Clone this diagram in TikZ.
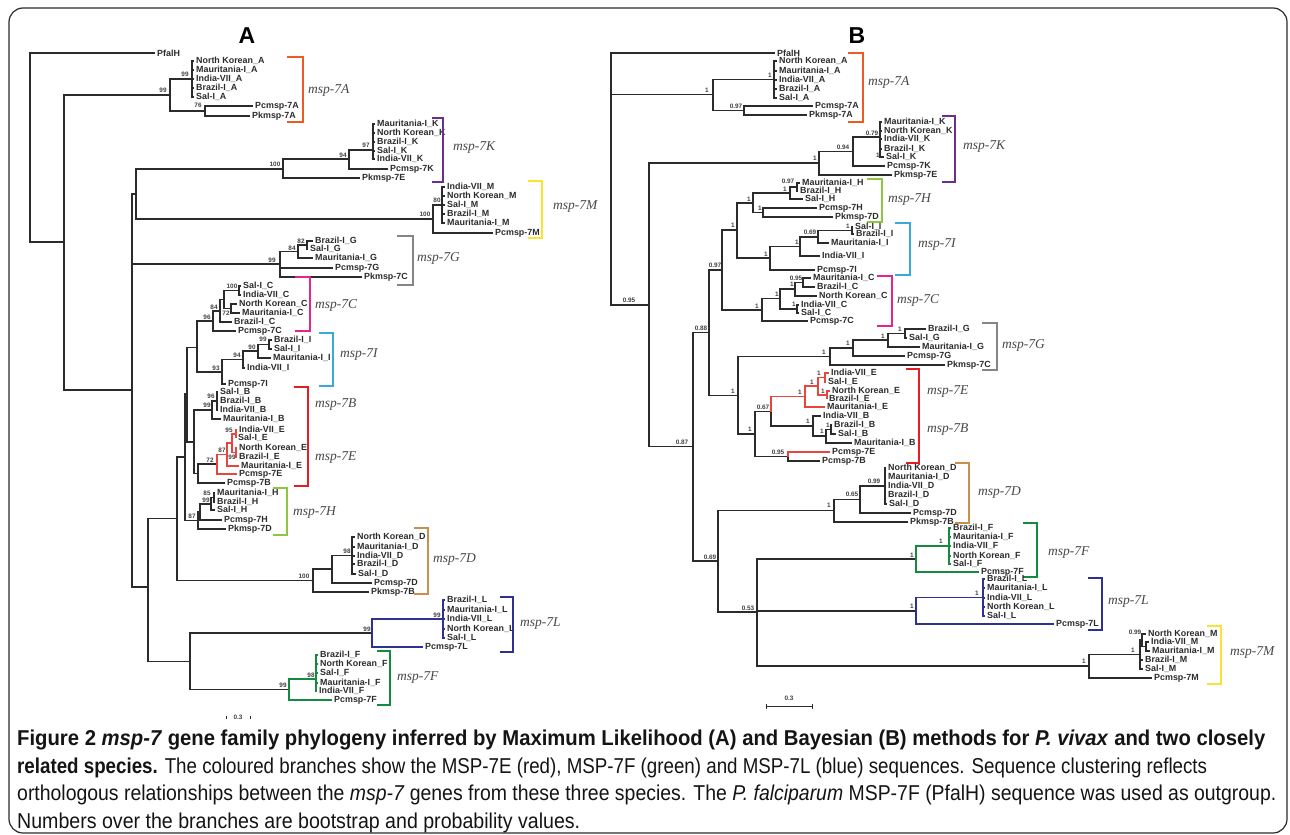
\documentclass[tikz,border=0pt]{standalone}
\usepackage{fontspec}
\usepackage{graphicx}
\setmainfont{Liberation Sans}
\newfontfamily\clfont{Liberation Serif}
\definecolor{cOr}{HTML}{EE5A24}
\definecolor{cPu}{HTML}{6B2D8E}
\definecolor{cYe}{HTML}{F7E433}
\definecolor{cGy}{HTML}{858585}
\definecolor{cMa}{HTML}{E6258C}
\definecolor{cBl}{HTML}{39A9DC}
\definecolor{cRe}{HTML}{E31E24}
\definecolor{cReB}{HTML}{E8463C}
\definecolor{cLi}{HTML}{8DC63F}
\definecolor{cTa}{HTML}{C8904F}
\definecolor{cNa}{HTML}{2E3192}
\definecolor{cGr}{HTML}{138A3E}
\definecolor{ink}{HTML}{2B2B2B}
\tikzset{
 tb/.style={draw=ink, line width=1.15pt},
 tiplab/.style={anchor=west, inner sep=0pt, font=\fontsize{8.9}{9}\selectfont\bfseries, text=ink},
 svlab/.style={inner sep=0pt, font=\fontsize{6.4}{7}\selectfont\bfseries, text=black!75},
 clab/.style={anchor=west, inner sep=0pt, font=\fontsize{13.5}{14}\selectfont\clfont\itshape, text=black!72},
 brk/.style={line width=2.3pt, line join=miter},
 ttl/.style={inner sep=0pt, font=\fontsize{23}{23}\selectfont\bfseries},
 capl/.style={anchor=base west, inner sep=0pt, text=black!92},
}
\newcommand\Zch[5][]{\draw[tb,#1] (#2,#3) |- (#4,#5);}
\newcommand\Zt[6][]{\draw[tb,#1] (#2,#3) |- (#4,#5); \node[tiplab] at ({#4+2},#5) {#6};}
\newcommand\Zsv[3]{\node[svlab] at (#1,#2) {#3};}
\newcommand\Zcl[3]{\node[clab] at (#1,#2) {msp-#3};}
\newcommand\Zbk[5]{\draw[brk,#1] (#2,#4) -- (#3,#4) -- (#3,#5) -- (#2,#5);}
\newcommand\capfs{\fontsize{21.5}{24}\selectfont}
\begin{document}
\begin{tikzpicture}[x=1pt,y=-1pt]
\useasboundingbox (0,0) rectangle (1290,835);
\draw[line width=1.2pt, draw=ink, rounded corners=14pt] (9,8) rectangle (1287,833);
\node[ttl] (tA) at (247,36) {A};
\node[ttl] (tB) at (857,36) {B};
% ================= PANEL A =================
\Zt{30}{242}{155}{53}{PfalH}
\Zch{30}{53}{64}{242}
\Zch{64}{242}{170}{95} \Zsv{163}{90}{99}
\Zch{64}{242}{132}{390}
% 7A
\Zch{170}{95}{192}{79} \Zsv{185}{74}{99}
\Zt{192}{79}{194}{61}{North Korean\_A}
\Zt{192}{79}{194}{70}{Mauritania-I\_A}
\Zt{192}{79}{194}{79}{India-VII\_A}
\Zt{192}{79}{194}{88}{Brazil-I\_A}
\Zt{192}{79}{194}{97}{Sal-I\_A}
\Zch{170}{95}{205}{111} \Zsv{198}{105}{76}
\Zt{205}{111}{253}{106}{Pcmsp-7A}
\Zt{205}{111}{250}{116}{Pkmsp-7A}
\Zbk{cOr}{287}{303}{57}{122} \Zcl{308}{90}{7A}
% backbone
\Zch{132}{390}{136}{194}
\Zch{132}{390}{280}{264} \Zsv{272}{260}{99}
\Zch{132}{390}{148}{587}
\Zch{136}{194}{283}{169} \Zsv{275}{164}{100}
\Zch{136}{194}{433}{219} \Zsv{425}{214}{100}
% 7K
\Zch{283}{169}{349}{159} \Zsv{343}{155}{94}
\Zt{283}{169}{360}{178}{Pkmsp-7E}
\Zch{349}{159}{373}{150} \Zsv{366}{145}{97}
\Zt{349}{159}{388}{169}{Pcmsp-7K}
\Zt{373}{150}{375}{124}{Mauritania-I\_K}
\Zt{373}{150}{375}{133}{North Korean\_K}
\Zt{373}{150}{375}{142}{Brazil-I\_K}
\Zt{373}{150}{375}{151}{Sal-I\_K}
\Zt{373}{150}{375}{159}{India-VII\_K}
\Zbk{cPu}{432}{443}{118}{182} \Zcl{453}{148}{7K}
% 7M
\Zch{433}{219}{442}{205} \Zsv{437}{200}{80}
\Zt{433}{219}{493}{233}{Pcmsp-7M}
\Zt{442}{205}{445}{187}{India-VII\_M}
\Zt{442}{205}{445}{196}{North Korean\_M}
\Zt{442}{205}{445}{205}{Sal-I\_M}
\Zt{442}{205}{445}{214}{Brazil-I\_M}
\Zt{442}{205}{445}{223}{Mauritania-I\_M}
\Zbk{cYe}{528}{542}{181}{238} \Zcl{553}{207}{7M}
% 7G
\Zch{280}{264}{298}{251.5} \Zsv{292}{248}{84}
\Zt{280}{264}{333}{268}{Pcmsp-7G}
\Zt{280}{264}{362}{277}{Pkmsp-7C}
\Zch{298}{251.5}{307}{245} \Zsv{301}{241}{82}
\Zt{298}{251.5}{313}{258}{Mauritania-I\_G}
\Zt{307}{245}{313}{241}{Brazil-I\_G}
\Zt{307}{245}{308}{249}{Sal-I\_G}
\Zbk{cGy}{397}{413}{236}{285} \Zcl{417}{258}{7G}
% lower part
\Zch{148}{587}{177}{518.5}
\Zch{148}{587}{190}{661.5}
\Zch{177}{518.5}{185}{457}
\Zch{177}{518.5}{313}{580.5} \Zsv{304}{576}{100}
\Zch{185}{457}{187}{393.5}
\Zch{185}{457}{198}{520.5} \Zsv{192}{516}{87}
\Zch{187}{393.5}{197}{347.5}
\Zch{187}{393.5}{194}{442}
% 7C
\Zch{197}{347.5}{213}{321} \Zsv{207}{317}{96}
\Zch{197}{347.5}{222}{372} \Zsv{216}{368}{93}
\Zch{213}{321}{220}{311} \Zsv{214}{307}{84}
\Zt{213}{321}{236}{331}{Pcmsp-7C}
\Zch{220}{311}{224}{299.5}
\Zt{220}{311}{232}{322}{Brazil-I\_C}
\Zch{224}{299.5}{239}{290.5} \Zsv{232}{286}{100}
\Zch{224}{299.5}{231}{308.5} \Zsv{226}{313}{72}
\Zt{239}{290.5}{241}{286}{Sal-I\_C}
\Zt{239}{290.5}{241}{295}{India-VII\_C}
\Zt{231}{308.5}{237}{304}{North Korean\_C}
\Zt{231}{308.5}{240}{313}{Mauritania-I\_C}
\Zbk{cMa}{295}{310}{277}{331} \Zcl{315}{305}{7C}
% 7I
\Zch{222}{372}{243}{359.5} \Zsv{237}{355}{94}
\Zt{222}{372}{226}{384}{Pcmsp-7I}
\Zch{243}{359.5}{258}{351} \Zsv{252}{347}{90}
\Zt{243}{359.5}{245}{368}{India-VII\_I}
\Zch{258}{351}{269}{344.5} \Zsv{263}{339}{99}
\Zt{258}{351}{271}{358}{Mauritania-I\_I}
\Zt{269}{344.5}{272}{340}{Brazil-I\_I}
\Zt{269}{344.5}{272}{349}{Sal-I\_I}
\Zbk{cBl}{319}{333}{333}{386} \Zcl{340}{355}{7I}
% 7B / 7E
\Zch{194}{442}{212}{410} \Zsv{207}{405}{99}
\Zch{194}{442}{198}{473.5}
\Zch{212}{410}{217}{401} \Zsv{211}{396}{96}
\Zt{212}{410}{221}{419}{Mauritania-I\_B}
\Zt{217}{401}{218}{392}{Sal-I\_B}
\Zt{217}{401}{218}{401}{Brazil-I\_B}
\Zt{217}{401}{218}{410}{India-VII\_B}
\Zch{198}{473.5}{217}{464} \Zsv{210}{460}{72}
\Zt{198}{473.5}{225}{483}{Pcmsp-7B}
\Zch[draw=cReB]{217}{464}{227}{454.5} \Zsv{222}{450}{87}
\Zt[draw=cReB]{217}{464}{237}{474}{Pcmsp-7E}
\Zch[draw=cReB]{227}{454.5}{232}{443}
\Zt[draw=cReB]{227}{454.5}{239}{466}{Mauritania-I\_E}
\Zch[draw=cReB]{232}{443}{236}{434} \Zsv{229}{430}{95}
\Zch[draw=cReB]{232}{443}{236}{452.5} \Zsv{232}{457}{99}
\Zt[draw=cReB]{236}{434}{237}{430}{India-VII\_E}
\Zt[draw=cReB]{236}{434}{236}{438}{Sal-I\_E}
\Zt[draw=cReB]{236}{452.5}{237}{448}{North Korean\_E}
\Zt[draw=cReB]{236}{452.5}{237}{457}{Brazil-I\_E}
\Zbk{cRe}{294}{308}{387}{486} \Zcl{315}{405}{7B} \Zcl{315}{458}{7E}
% 7H
\Zch{198}{520.5}{200}{512}
\Zt{198}{520.5}{226}{529}{Pkmsp-7D}
\Zch{200}{512}{211}{504} \Zsv{206}{500}{99}
\Zt{200}{512}{222}{520}{Pcmsp-7H}
\Zch{211}{504}{214}{497.5} \Zsv{207}{493}{85}
\Zt{211}{504}{215}{510}{Sal-I\_H}
\Zt{214}{497.5}{215}{493}{Mauritania-I\_H}
\Zt{214}{497.5}{215}{502}{Brazil-I\_H}
\Zbk{cLi}{273}{287}{488}{535} \Zcl{293}{513}{7H}
% 7D
\Zch{313}{580.5}{332}{569}
\Zt{313}{580.5}{369}{592}{Pkmsp-7B}
\Zch{332}{569}{352}{555.5} \Zsv{347}{551}{98}
\Zt{332}{569}{372}{583}{Pcmsp-7D}
\Zt{352}{555.5}{355}{537}{North Korean\_D}
\Zt{352}{555.5}{355}{547}{Mauritania-I\_D}
\Zt{352}{555.5}{355}{556}{India-VII\_D}
\Zt{352}{555.5}{355}{564}{Brazil-I\_D}
\Zt{352}{555.5}{356}{574}{Sal-I\_D}
\Zbk{cTa}{414}{428}{528}{594} \Zcl{433}{560}{7D}
% 7L
\Zch{190}{661.5}{372}{633} \Zsv{367}{629}{99}
\Zch{190}{661.5}{289}{689.5} \Zsv{283}{685}{99}
\Zch[draw=cNa]{372}{633}{443}{619} \Zsv{437}{615}{99}
\Zt[draw=cNa]{372}{633}{423}{647}{Pcmsp-7L}
\Zt[draw=cNa]{443}{619}{445}{600}{Brazil-I\_L}
\Zt[draw=cNa]{443}{619}{445}{610}{Mauritania-I\_L}
\Zt[draw=cNa]{443}{619}{445}{619}{India-VII\_L}
\Zt[draw=cNa]{443}{619}{445}{629}{North Korean\_L}
\Zt[draw=cNa]{443}{619}{445}{638}{Sal-I\_L}
\Zbk{cNa}{500}{513}{597}{652} \Zcl{520}{624}{7L}
% 7F
\Zch[draw=cGr]{289}{689.5}{316}{679} \Zsv{311}{675}{98}
\Zt[draw=cGr]{289}{689.5}{332}{700}{Pcmsp-7F}
\Zt[draw=cGr]{316}{679}{318}{655}{Brazil-I\_F}
\Zt[draw=cGr]{316}{679}{318}{664}{North Korean\_F}
\Zt[draw=cGr]{316}{679}{318}{673}{Sal-I\_F}
\Zt[draw=cGr]{316}{679}{318}{683}{Mauritania-I\_F}
\Zt[draw=cGr]{316}{679}{317}{691}{India-VII\_F}
\Zbk{cGr}{377}{390}{651}{705} \Zcl{397}{678}{7F}
% scale A
\node[svlab] (sA) at (238,717) {0.3};
\draw[ink, line width=0.8pt] (226,716) -- (226,719) (250,716) -- (250,719);
% ================= PANEL B =================
\Zt{611}{305}{775}{53}{PfalH}
\Zch{611}{305}{713}{94.5} \Zsv{707}{90}{1}
\Zch{611}{53}{649}{305} \Zsv{629}{300}{0.95}
% 7A
\Zch{713}{94.5}{774}{79.5} \Zsv{770}{75}{1}
\Zch{713}{94.5}{744}{110.5} \Zsv{736}{106}{0.97}
\Zt{774}{79.5}{777}{61}{North Korean\_A}
\Zt{774}{79.5}{777}{71}{Mauritania-I\_A}
\Zt{774}{79.5}{777}{80}{India-VII\_A}
\Zt{774}{79.5}{777}{89}{Brazil-I\_A}
\Zt{774}{79.5}{777}{98}{Sal-I\_A}
\Zt{744}{110.5}{813}{106}{Pcmsp-7A}
\Zt{744}{110.5}{807}{115}{Pkmsp-7A}
\Zbk{cOr}{848}{863}{53}{122} \Zcl{868}{82}{7A}
% X
\Zch{649}{305}{819}{163} \Zsv{815}{158}{1}
\Zch{649}{305}{693}{446.5} \Zsv{682}{442}{0.87}
% 7K
\Zch{819}{163}{853}{151.5} \Zsv{843}{147}{0.94}
\Zt{819}{163}{892}{175}{Pkmsp-7E}
\Zch{853}{151.5}{880}{137} \Zsv{872}{133}{0.79}
\Zt{853}{151.5}{885}{166}{Pcmsp-7K}
\Zt{880}{137}{882}{122}{Mauritania-I\_K}
\Zt{880}{137}{882}{131}{North Korean\_K}
\Zt{880}{137}{882}{139}{India-VII\_K}
\Zt{880}{137}{882}{149}{Brazil-I\_K}
\Zt{880}{137}{884}{157}{Sal-I\_K}
\Zsv{878}{155}{1}
\Zbk{cPu}{942}{955}{116}{182} \Zcl{963}{147}{7K}
% Y, Z
\Zch{693}{446.5}{709}{332.5} \Zsv{701}{328}{0.88}
\Zch{693}{446.5}{718}{561} \Zsv{710}{557}{0.69}
\Zch{709}{332.5}{722}{270} \Zsv{715}{265}{0.97}
\Zch{709}{332.5}{738}{395.5} \Zsv{733}{391}{1}
\Zch{722}{270}{737}{230} \Zsv{733}{225}{1}
\Zch{722}{270}{762}{310} \Zsv{757}{306}{1}
% 7H
\Zch{737}{230}{753}{203} \Zsv{749}{199}{1}
\Zch{737}{230}{770}{258} \Zsv{766}{254}{1}
\Zch{753}{203}{790}{193} \Zsv{785}{189}{1}
\Zch{753}{203}{763}{212.5} \Zsv{760}{208}{1}
\Zch{790}{193}{797}{187} \Zsv{788}{181}{0.97}
\Zt{790}{193}{803}{199}{Sal-I\_H}
\Zt{797}{187}{800}{183}{Mauritania-I\_H}
\Zt{797}{187}{798}{191}{Brazil-I\_H}
\Zt{763}{212.5}{817}{208}{Pcmsp-7H}
\Zt{763}{212.5}{833}{217}{Pkmsp-7D}
\Zbk{cLi}{867}{882}{179}{222} \Zcl{888}{200}{7H}
% 7I
\Zch{770}{258}{800}{246.5} \Zsv{797}{242}{1}
\Zt{770}{258}{815}{270}{Pcmsp-7I}
\Zch{800}{246.5}{818}{237} \Zsv{810}{232}{0.69}
\Zt{800}{246.5}{820}{256}{India-VII\_I}
\Zch{818}{237}{852}{230.5} \Zsv{848}{226}{1}
\Zt{818}{237}{829}{243}{Mauritania-I\_I}
\Zt{852}{230.5}{853}{227}{Sal-I\_I}
\Zt{852}{230.5}{854}{234}{Brazil-I\_I}
\Zbk{cBl}{895}{910}{223}{275} \Zcl{918}{245}{7I}
% 7C
\Zch{762}{310}{780}{298.5} \Zsv{777}{294}{1}
\Zt{762}{310}{808}{321}{Pcmsp-7C}
\Zch{780}{298.5}{795}{289} \Zsv{792}{284}{1}
\Zch{780}{298.5}{797}{309} \Zsv{794}{304}{1}
\Zch{795}{289}{803}{282.5} \Zsv{796}{278}{0.95}
\Zt{795}{289}{817}{296}{North Korean\_C}
\Zt{803}{282.5}{811}{278}{Mauritania-I\_C}
\Zt{803}{282.5}{815}{287}{Brazil-I\_C}
\Zt{797}{309}{799}{305}{India-VII\_C}
\Zt{797}{309}{799}{313}{Sal-I\_C}
\Zbk{cMa}{877}{892}{276}{326} \Zcl{897}{300}{7C}
% 7G
\Zch{738}{395.5}{830}{356.5} \Zsv{824}{352}{1}
\Zch{738}{395.5}{755}{434} \Zsv{750}{429}{1}
\Zch{830}{356.5}{853}{348} \Zsv{848}{343}{1}
\Zt{830}{356.5}{945}{365}{Pkmsp-7C}
\Zch{853}{348}{888}{340} \Zsv{883}{336}{1}
\Zt{853}{348}{905}{356}{Pcmsp-7G}
\Zch{888}{340}{905}{333.5} \Zsv{900}{329}{1}
\Zt{888}{340}{920}{347}{Mauritania-I\_G}
\Zt{905}{333.5}{926}{329}{Brazil-I\_G}
\Zt{905}{333.5}{907}{338}{Sal-I\_G}
\Zbk{cGy}{982}{997}{323}{370} \Zcl{1002}{345}{7G}
% 7E / 7B
\Zch{755}{434}{771}{411.5} \Zsv{763}{407}{0.67}
\Zch{755}{434}{788}{456.5} \Zsv{778}{452}{0.95}
\Zch[draw=cReB]{771}{411.5}{805}{396.5} \Zsv{800}{392}{1}
\Zch{771}{411.5}{813}{426} \Zsv{808}{421}{1}
\Zch[draw=cReB]{805}{396.5}{818}{386} \Zsv{812}{382}{1}
\Zt[draw=cReB]{805}{396.5}{825}{407}{Mauritania-I\_E}
\Zch[draw=cReB]{818}{386}{825}{377.5} \Zsv{819}{373}{1}
\Zch[draw=cReB]{818}{386}{827}{395} \Zsv{823}{391}{1}
\Zt[draw=cReB]{825}{377.5}{829}{373}{India-VII\_E}
\Zt[draw=cReB]{825}{377.5}{826}{382}{Sal-I\_E}
\Zt[draw=cReB]{827}{395}{830}{391}{North Korean\_E}
\Zt[draw=cReB]{827}{395}{827}{399}{Brazil-I\_E}
\Zt{813}{426}{821}{416}{India-VII\_B}
\Zch{813}{426}{826}{436} \Zsv{822}{431}{1}
\Zch{826}{436}{831}{429.5} \Zsv{828}{425}{1}
\Zt{826}{436}{852}{443}{Mauritania-I\_B}
\Zt{831}{429.5}{832}{425}{Brazil-I\_B}
\Zt{831}{429.5}{836}{434}{Sal-I\_B}
\Zt[draw=cReB]{788}{456.5}{830}{452}{Pcmsp-7E}
\Zt{788}{456.5}{820}{461}{Pcmsp-7B}
\Zbk{cRe}{906}{919}{369}{463} \Zcl{927}{392}{7E} \Zcl{927}{430}{7B}
% 7D
\Zch{718}{561}{834}{510.5} \Zsv{829}{505}{1}
\Zch{718}{561}{757}{612} \Zsv{748}{608}{0.53}
\Zch{834}{510.5}{860}{499.5} \Zsv{852}{494}{0.65}
\Zt{834}{510.5}{908}{522}{Pkmsp-7B}
\Zch{860}{499.5}{885}{486} \Zsv{874}{481}{0.99}
\Zt{860}{499.5}{911}{513}{Pcmsp-7D}
\Zt{885}{486}{886}{468}{North Korean\_D}
\Zt{885}{486}{886}{477}{Mauritania-I\_D}
\Zt{885}{486}{886}{486}{India-VII\_D}
\Zt{885}{486}{886}{495}{Brazil-I\_D}
\Zt{885}{486}{887}{504}{Sal-I\_D}
\Zbk{cTa}{955}{969}{463}{523} \Zcl{978}{493}{7D}
% 7F
\Zch{757}{612}{916}{559} \Zsv{912}{555}{1}
\Zch{757}{612}{916}{611} \Zsv{912}{606}{1}
\Zch{757}{612}{1089}{666} \Zsv{1084}{661}{1}
\Zch[draw=cGr]{916}{559}{949}{546} \Zsv{941}{541}{1}
\Zt[draw=cGr]{916}{559}{979}{572}{Pcmsp-7F}
\Zt[draw=cGr]{949}{546}{951}{528}{Brazil-I\_F}
\Zt[draw=cGr]{949}{546}{951}{537}{Mauritania-I\_F}
\Zt[draw=cGr]{949}{546}{951}{546}{India-VII\_F}
\Zt[draw=cGr]{949}{546}{951}{556}{North Korean\_F}
\Zt[draw=cGr]{949}{546}{951}{564}{Sal-I\_F}
\Zbk{cGr}{1023}{1037}{523}{577} \Zcl{1048}{553}{7F}
% 7L
\Zch[draw=cNa]{916}{611}{983}{597.5} \Zsv{977}{593}{1}
\Zt[draw=cNa]{916}{611}{1054}{624}{Pcmsp-7L}
\Zt[draw=cNa]{983}{597.5}{985}{579}{Brazil-I\_L}
\Zt[draw=cNa]{983}{597.5}{985}{588}{Mauritania-I\_L}
\Zt[draw=cNa]{983}{597.5}{985}{598}{India-VII\_L}
\Zt[draw=cNa]{983}{597.5}{985}{607}{North Korean\_L}
\Zt[draw=cNa]{983}{597.5}{985}{616}{Sal-I\_L}
\Zbk{cNa}{1088}{1102}{578}{630} \Zcl{1108}{602}{7L}
% 7M
\Zch{1089}{666}{1140}{654.5} \Zsv{1133}{650}{1}
\Zt{1089}{666}{1152}{678}{Pcmsp-7M}
\Zch{1140}{654.5}{1142}{640} \Zsv{1135}{632}{0.99}
\Zt{1140}{654.5}{1143}{660}{Brazil-I\_M}
\Zt{1140}{654.5}{1143}{669}{Sal-I\_M}
\Zt{1142}{640}{1146}{634}{North Korean\_M}
\Zch{1142}{640}{1146}{646.5}
\Zt{1146}{646.5}{1149}{642}{India-VII\_M}
\Zt{1146}{646.5}{1150}{651}{Mauritania-I\_M}
\Zbk{cYe}{1207}{1221}{626}{684} \Zcl{1230}{653}{7M}
% scale B
\node[svlab] (sB) at (789,698) {0.3};
\draw[ink, line width=0.9pt] (766,706) -- (812,706) (766,703.5) -- (766,708.5) (812,703.5) -- (812,708.5);
% ================= CAPTION =================
\node[capl] (c1) at (17,745) {\resizebox{1248pt}{\height}{\capfs\bfseries Figure 2 \textit{msp-7} gene family phylogeny inferred by Maximum Likelihood (A) and Bayesian (B) methods for \textit{P. vivax} and two closely}};
\node[capl] (c2) at (17,773) {\resizebox{1190pt}{\height}{\capfs{\bfseries related species.} The coloured branches show the MSP-7E (red), MSP-7F (green) and MSP-7L (blue) sequences. Sequence clustering reflects}};
\node[capl] (c3) at (17,800) {\resizebox{1259pt}{\height}{\capfs orthologous relationships between the \textit{msp-7} genes from these three species. The \textit{P. falciparum} MSP-7F (PfalH) sequence was used as outgroup.}};
\node[capl] (c4) at (17,828) {\resizebox{563pt}{\height}{\capfs Numbers over the branches are bootstrap and probability values.}};
\end{tikzpicture}
\end{document}
